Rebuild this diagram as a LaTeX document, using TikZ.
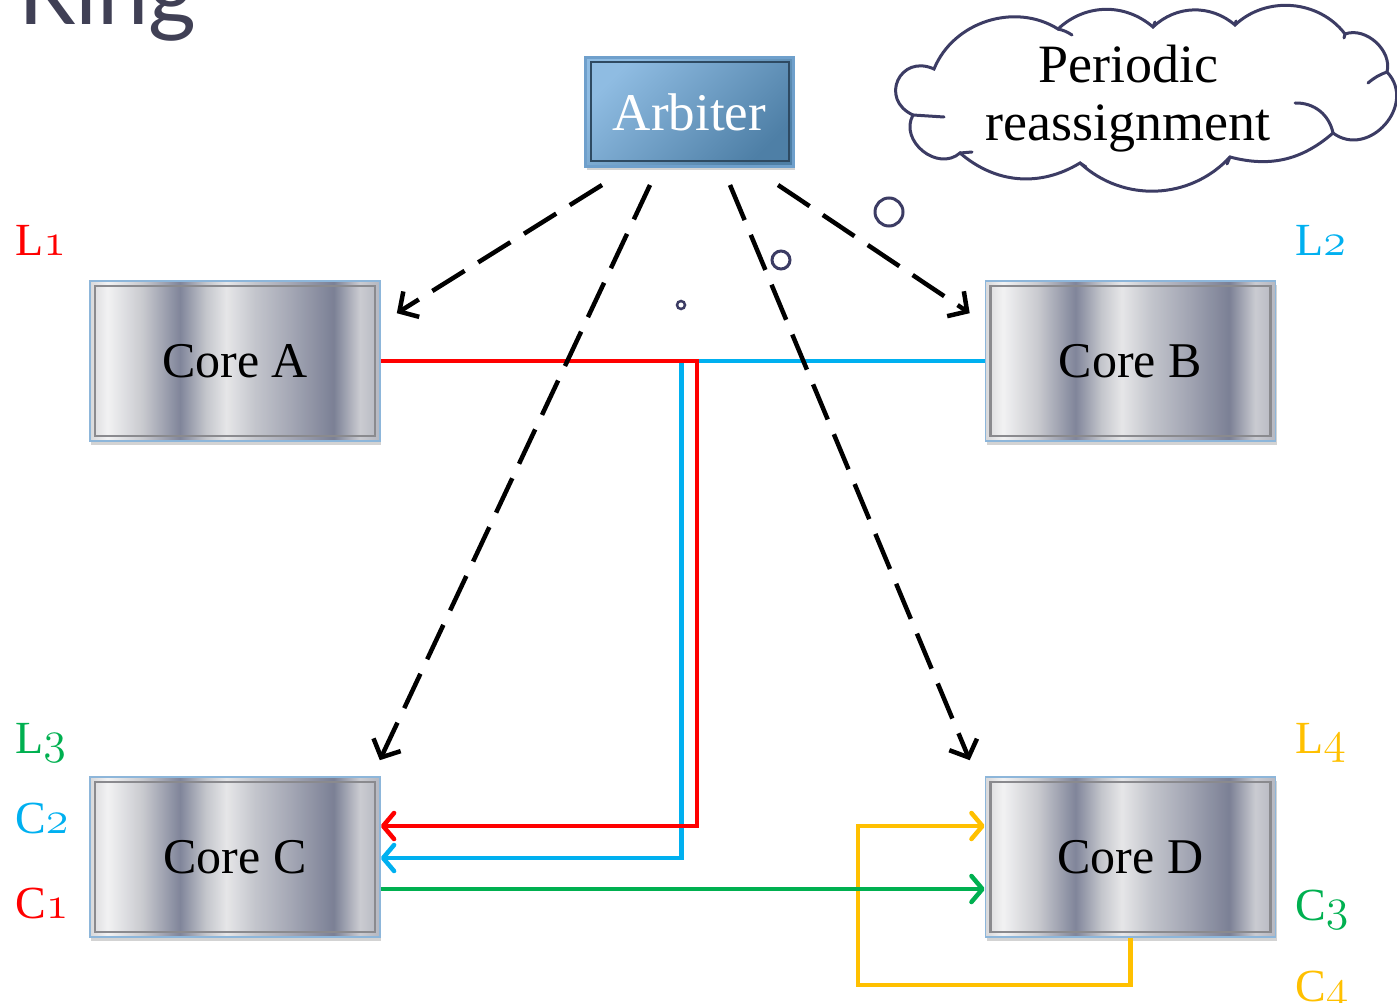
\RequirePackage{fix-cm}
\documentclass[tikz,border=0pt]{standalone}
\usepackage{fontspec}
\setmainfont{Liberation Serif}
\newfontfamily\titlefont{Lato}
\usetikzlibrary{arrows.meta,calc,shadows}

% old-style figures taken from the Computer Modern math italic font
\newcommand\osnum[1]{{\usefont{OML}{cmm}{m}{it}#1}}

\definecolor{lred}{HTML}{FF0000}
\definecolor{lblue}{HTML}{00B0F0}
\definecolor{lgreen}{HTML}{00B050}
\definecolor{lyellow}{HTML}{FFC000}
\definecolor{ink}{HTML}{3C3C64}
\definecolor{titlegrey}{HTML}{404055}
\definecolor{arbA}{HTML}{8FBCE2}
\definecolor{arbB}{HTML}{4E7FA6}
\definecolor{arbedge}{HTML}{6FA0CC}
\definecolor{arbinner}{HTML}{2E4A62}
\definecolor{coreedge}{HTML}{8DB6DA}
\definecolor{innergrey}{HTML}{8A8A8E}
\definecolor{m0}{HTML}{D8D8DA}
\definecolor{m1}{HTML}{F2F2F3}
\definecolor{m2}{HTML}{C9CACF}
\definecolor{m3}{HTML}{80859A}
\definecolor{m4}{HTML}{C4C6CC}
\definecolor{m5}{HTML}{E6E6E8}
\definecolor{m6}{HTML}{C3C5CC}
\definecolor{m7}{HTML}{A2A5B3}
\definecolor{m8}{HTML}{7B8095}
\definecolor{m9}{HTML}{CACBD1}
\definecolor{m10}{HTML}{B5B7C0}

% brushed-metal stripes running across the core boxes
\pgfdeclarehorizontalshading{metal}{100bp}{%
  color(0bp)=(m0); color(25bp)=(m0); color(28bp)=(m1); color(34bp)=(m2);
  color(40.5bp)=(m3); color(45bp)=(m4); color(48.5bp)=(m5); color(53.5bp)=(m6);
  color(60bp)=(m7); color(67bp)=(m8); color(71.5bp)=(m9); color(75bp)=(m10);
  color(100bp)=(m10)}

\tikzset{
  every node/.style={inner sep=0pt},
  core/.style={draw=coreedge, line width=1.6pt, shade, shading=metal,
    minimum width=290pt, minimum height=160pt,
    font=\fontsize{50}{60}\selectfont,
    drop shadow={shadow xshift=1pt, shadow yshift=-4pt, opacity=0.35},
    path picture={\draw[innergrey, line width=2.4pt]
      ($(path picture bounding box.south west)+(5,-5)$) rectangle
      ($(path picture bounding box.north east)+(-5,5)$);}},
  arbiter/.style={draw=arbedge, line width=3pt, top color=arbA, bottom color=arbB,
    shading angle=45, minimum width=208pt, minimum height=109pt,
    text=white, font=\fontsize{53}{60}\selectfont,
    drop shadow={shadow xshift=1pt, shadow yshift=-4pt, opacity=0.35},
    path picture={\draw[arbinner, line width=2pt]
      ($(path picture bounding box.south west)+(5,-5)$) rectangle
      ($(path picture bounding box.north east)+(-5,5)$);}},
  label/.style={anchor=base west, font=\fontsize{46}{50}\selectfont},
  darr/.style={line width=4.5pt, dash pattern=on 38pt off 16pt,
    -{Straight Barb[length=14pt, width=30pt]}},
  link/.style={line width=4.5pt, -{Straight Barb[length=11pt, width=26pt, round]}},
  bubble/.style={draw=ink, fill=white},
  cloudline/.style={draw=ink, line width=3pt, line cap=round},
}

\begin{document}
\begin{tikzpicture}[x=1pt, y=-1pt]
\path[use as bounding box] (0,0) rectangle (1397,1003);

% slide title, cut by the top edge
\node[anchor=base west, font=\titlefont\fontsize{92}{100}\selectfont, text=titlegrey] (title) at (18,25) {Ring};

% blocks
\node[arbiter] (arb) at (689.5,112) {Arbiter};
\node[core] (A) at (235,361) {Core A};
\node[core] (B) at (1130.5,361) {Core B};
\node[core] (C) at (235,857) {Core C};
\node[core] (D) at (1130.5,857) {Core D};

% thought cloud: one arc per puff, going round clockwise
\path[cloudline, fill=white]
  (934,69) to[bend left=50] (1058,29) to[bend left=42] (1153,27)
  to[bend left=42] (1235,25) to[bend left=48] (1345,34)
  to[bend left=62] (1387,72) to[bend left=85, looseness=1.4] (1333,133)
  to[bend left=28] (1230,157) to[bend left=45] (1080,163)
  to[bend left=36] (960,153) to[bend left=80, looseness=1.25] (913,115)
  to[bend left=90, looseness=1.9] cycle;
% ends of the puffs that run on inside the cloud
\draw[cloudline] (1058,29) to[bend left=10] (1072,35);
\draw[cloudline] (1153,27) -- (1155,22);
\draw[cloudline] (1235,25) -- (1236,21);
\draw[cloudline] (1345,34) -- (1344,38);
\draw[cloudline] (1387,72) to[bend right=10] (1368,83);
\draw[cloudline] (1295,103) to[bend left=40] (1333,133);
\draw[cloudline] (1230,157) -- (1227,164);
\draw[cloudline] (1080,163) -- (1086,167);
\draw[cloudline] (960,153) -- (972,152);
\draw[cloudline] (913,115) -- (944,117);
\node[align=center, font=\fontsize{54}{58}\selectfont] (cloudtext) at (1128,99) {Periodic\\reassignment};
\node[bubble, circle, line width=3pt, minimum size=28pt] (b1) at (889,212) {};
\node[bubble, circle, line width=3pt, minimum size=18pt] (b2) at (781,260) {};
\node[bubble, circle, line width=2.5pt, minimum size=8pt] (b3) at (681,305) {};

% links between the cores
\draw[link, lblue] (B.west) -- ++(-303,0) |- ($(C.east)+(0,1)$);
\draw[link, lred] (A.east) -- ++(316,0) |- ($(C.east)+(0,-31)$);
\draw[link, lyellow] (D.south) -- ++(0,47) -- ++(-272.5,0) |- ($(D.west)+(0,-31)$);
\draw[link, lgreen] ($(C.east)+(0,32)$) -- ($(D.west)+(0,32)$);

% assignments issued by the arbiter
\coordinate (s1) at ($(arb.center)+(-87.5,73)$);
\coordinate (s2) at ($(arb.center)+(-39.5,73)$);
\coordinate (s3) at ($(arb.center)+(40.5,73)$);
\coordinate (s4) at ($(arb.center)+(88.5,73)$);
\coordinate (e1) at ($(A.north east)+(16,33)$);
\coordinate (e2) at ($(C.north east)+(-1,-16)$);
\coordinate (e3) at ($(D.north west)+(-15,-16)$);
\coordinate (e4) at ($(B.north west)+(-15,33)$);
\draw[darr] (s1) -- (e1);
\draw[darr] (s2) -- (e2);
\draw[darr] (s3) -- (e3);
\draw[darr] (s4) -- (e4);

% link names
\node[label, text=lred] (l1) at (15,255) {L\osnum{1}};
\node[label, text=lblue] (l2) at (1295,255) {L\osnum{2}};
\node[label, text=lgreen] (l3) at (15,753) {L\osnum{3}};
\node[label, text=lyellow] (l4) at (1295,753) {L\osnum{4}};
\node[label, text=lblue] (c2) at (15,833) {C\osnum{2}};
\node[label, text=lred] (c1) at (15,918) {C\osnum{1}};
\node[label, text=lgreen] (c3) at (1295,920) {C\osnum{3}};
\node[label, text=lyellow] (c4) at (1295,1001) {C\osnum{4}};
\end{tikzpicture}
\end{document}
